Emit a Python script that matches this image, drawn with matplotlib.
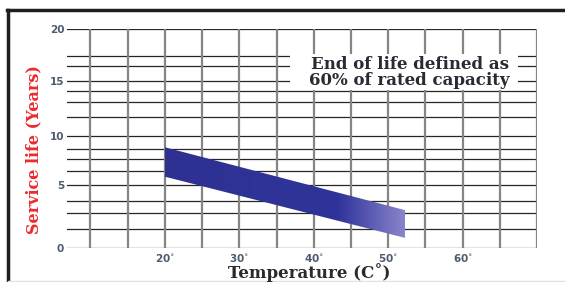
import numpy as np
import matplotlib
matplotlib.use("Agg")
import matplotlib.pyplot as plt
from matplotlib.patches import Polygon, Rectangle
from matplotlib.colors import LinearSegmentedColormap

# ---- data ----
band_temp = [20, 52.3]            # deg C, band start / end
band_upper = [8.85, 3.0]          # years, upper edge
band_lower = [5.85, 0.8]          # years, lower edge
y_ticks = [0, 5, 10, 15, 20]
y_tick_labels = ["0", "5", "10", "15", "20"]
x_ticks = [20, 30, 40, 50, 60]
x_tick_labels = ["20$^{\\circ}$", "30$^{\\circ}$", "40$^{\\circ}$", "50$^{\\circ}$", "60$^{\\circ}$"]
h_grid = [0, 1.5, 2.75, 3.75, 5, 6.4, 7.65, 8.7, 10, 11.7, 13.1, 14.1, 15, 16.4, 17.4, 20]
v_grid = [10, 15, 20, 25, 30, 35, 40, 45, 50, 55, 60, 65, 70]
note = "End of life defined as\n60% of rated capacity"

# non-uniform vertical scale of the printed chart
scale_vals = [0, 5, 10, 15, 20]
scale_pos = [0, 63, 112, 167, 219]
def fwd(y):
    return np.interp(y, scale_vals, scale_pos)
def inv(p):
    return np.interp(p, scale_pos, scale_vals)

W, H = 565, 282
fig = plt.figure(figsize=(W / 100, H / 100), dpi=100)
ax = fig.add_axes([67 / W, 34 / H, (537 - 67) / W, (248 - 29) / H])
ax.set_yscale("function", functions=(fwd, inv))
ax.set_xlim(6.85, 70)
ax.set_ylim(0, 20)
for s in ax.spines.values():
    s.set_visible(False)

# grid
for yv in h_grid:
    ax.axhline(yv, color="#262626", lw=0.9, zorder=1)
for xv in v_grid:
    ax.axvline(xv, color="#858585", lw=1.6, zorder=1)

# band with gradient
poly = Polygon([(band_temp[0], band_upper[0]), (band_temp[1], band_upper[1]),
                (band_temp[1], band_lower[1]), (band_temp[0], band_lower[0])],
               closed=True, facecolor="none", edgecolor="none")
ax.add_patch(poly)
cmap = LinearSegmentedColormap.from_list(
    "band", [(0, "#2e3192"), (0.72, "#30349a"), (1.0, "#8a85cc")])
grad = np.linspace(0, 1, 256).reshape(1, -1)
im = ax.imshow(grad, cmap=cmap, aspect="auto",
               extent=(band_temp[0], band_temp[1], 0, 20), zorder=2,
               interpolation="bilinear")
im.set_clip_path(poly)

# note box
ax.add_patch(Rectangle((36.8, 14.2), 67.4 - 36.8, 17.55 - 14.2,
                       facecolor="white", edgecolor="none", zorder=3))
ax.text(0.729, 0.80, note, transform=ax.transAxes, ha="center", va="center",
        fontsize=12, fontweight="bold", family="DejaVu Serif",
        color="#2a2a35", linespacing=0.92, zorder=4)

# ticks
ax.set_yticks(y_ticks)
ax.set_yticklabels(y_tick_labels)
ax.set_xticks(x_ticks)
ax.set_xticklabels(x_tick_labels)
ax.tick_params(axis="both", length=0, labelsize=7.5, labelcolor="#4d5b6e")
ax.tick_params(axis="y", pad=2)
ax.tick_params(axis="x", pad=3)
for lab in ax.get_xticklabels() + ax.get_yticklabels():
    lab.set_fontweight("bold")
ax.minorticks_off()

# axis titles
fig.text(309.5 / W, 1 - 278 / H, "Temperature (C\u02da)", ha="center", va="baseline",
         fontsize=12, fontweight="bold", family="DejaVu Serif", color="#2a2a2a")
fig.text(34 / W, 1 - 150 / H, "Service life (Years)", ha="center", va="center",
         rotation=90, fontsize=11.5, fontweight="bold", family="DejaVu Serif",
         color="#ec2a2e")

# outer frame
fig.add_artist(plt.Line2D([7.5 / W, 7.5 / W], [0, 1 - 10 / H], transform=fig.transFigure,
                          color="#1e1e1e", lw=2.5))
fig.add_artist(plt.Line2D([6.5 / W, 1], [1 - 10 / H, 1 - 10 / H], transform=fig.transFigure,
                          color="#1e1e1e", lw=2.5))
fig.add_artist(plt.Line2D([7.5 / W, 1], [1.5 / H, 1.5 / H], transform=fig.transFigure,
                          color="#e0e0e0", lw=1.0))

fig.savefig("out.png", dpi=100)
